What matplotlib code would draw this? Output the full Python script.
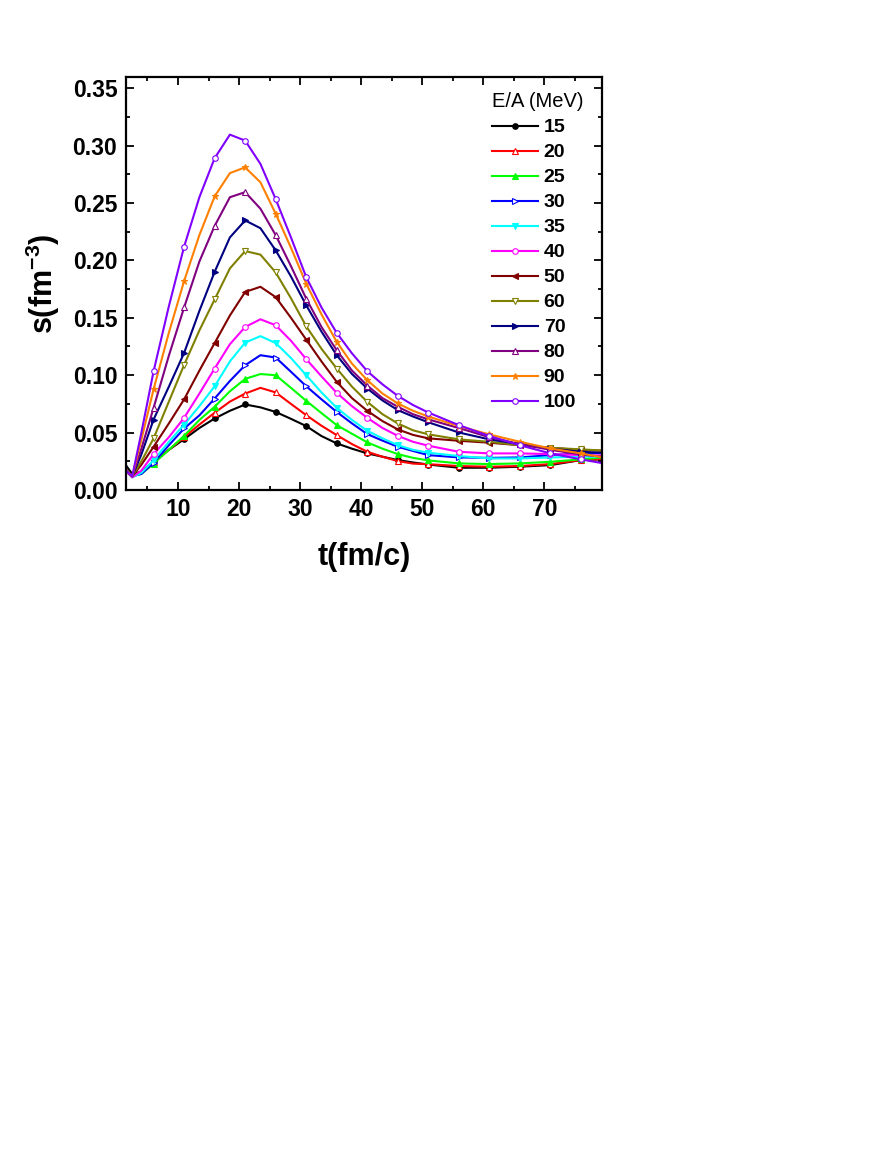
import matplotlib
matplotlib.use("Agg")
import matplotlib.pyplot as plt
from matplotlib.ticker import MultipleLocator, FormatStrFormatter

plt.rcParams['font.family'] = ['Liberation Sans', 'DejaVu Sans']
plt.rcParams['font.weight'] = 'bold'
plt.rcParams['mathtext.fontset'] = 'custom'
plt.rcParams['mathtext.rm'] = 'Liberation Sans:bold'
plt.rcParams['mathtext.default'] = 'rm'

# time grid (fm/c), markers sit every 5 fm/c starting at t=1
t = [1, 2.5, 4, 6, 8.5, 11, 13.5, 16, 18.5, 21, 23.5, 26, 28.5, 31, 33.5, 36,
     38.5, 41, 43.5, 46, 48.5, 51, 56, 61, 66, 71, 76, 81]

energies = ['15', '20', '25', '30', '35', '40', '50', '60', '70', '80', '90', '100']

s15 = [0.025, 0.014, 0.016, 0.025, 0.035, 0.0443, 0.054, 0.0623, 0.069, 0.0745, 0.072, 0.068,
       0.062, 0.0557, 0.047, 0.0406, 0.036, 0.0319, 0.029, 0.0261, 0.024, 0.0222, 0.0194,
       0.0194, 0.0203, 0.0217, 0.0261, 0.027]
s20 = [0.021, 0.012, 0.015, 0.024, 0.035, 0.046, 0.057, 0.0673, 0.077, 0.084, 0.089, 0.085,
       0.075, 0.0652, 0.056, 0.0478, 0.040, 0.0333, 0.029, 0.0252, 0.023, 0.0225, 0.0209,
       0.0203, 0.0209, 0.0226, 0.0261, 0.0275]
s25 = [0.020, 0.012, 0.014, 0.023, 0.035, 0.0472, 0.061, 0.0725, 0.086, 0.0968, 0.101, 0.100,
       0.089, 0.0777, 0.067, 0.0565, 0.049, 0.0415, 0.036, 0.0313, 0.028, 0.0258, 0.0232,
       0.0226, 0.0232, 0.0246, 0.0267, 0.029]
s30 = [0.020, 0.012, 0.014, 0.0238, 0.039, 0.0536, 0.065, 0.0797, 0.095, 0.1087, 0.1174, 0.1154,
       0.103, 0.0904, 0.079, 0.068, 0.058, 0.0487, 0.043, 0.0377, 0.034, 0.0304, 0.0284,
       0.028, 0.0284, 0.0304, 0.0319, 0.0325]
s35 = [0.019, 0.011, 0.015, 0.026, 0.042, 0.057, 0.073, 0.0904, 0.112, 0.1284, 0.134, 0.128,
       0.115, 0.100, 0.085, 0.0716, 0.061, 0.0516, 0.045, 0.0391, 0.035, 0.0325, 0.0296,
       0.0275, 0.0275, 0.0284, 0.029, 0.029]
s40 = [0.019, 0.011, 0.017, 0.0313, 0.046, 0.0629, 0.084, 0.1058, 0.127, 0.142, 0.1487, 0.1435,
       0.130, 0.114, 0.099, 0.0846, 0.073, 0.0629, 0.054, 0.0472, 0.042, 0.0386, 0.0333,
       0.0319, 0.0319, 0.0313, 0.0304, 0.030]
s50 = [0.019, 0.012, 0.022, 0.0377, 0.058, 0.079, 0.104, 0.128, 0.152, 0.1725, 0.177, 0.168,
       0.150, 0.131, 0.112, 0.0942, 0.080, 0.069, 0.060, 0.0528, 0.048, 0.045, 0.0429,
       0.0412, 0.039, 0.0368, 0.0348, 0.034]
s60 = [0.019, 0.012, 0.025, 0.045, 0.077, 0.109, 0.139, 0.166, 0.193, 0.2081, 0.205, 0.1895,
       0.167, 0.1426, 0.123, 0.1058, 0.090, 0.0768, 0.066, 0.058, 0.052, 0.0485, 0.0441,
       0.042, 0.039, 0.0368, 0.0354, 0.034]
s70 = [0.019, 0.012, 0.031, 0.0614, 0.090, 0.1194, 0.156, 0.190, 0.220, 0.2348, 0.228, 0.2087,
       0.186, 0.1609, 0.138, 0.1174, 0.101, 0.0884, 0.078, 0.0696, 0.064, 0.059, 0.0501,
       0.0441, 0.040, 0.036, 0.0333, 0.032]
s80 = [0.019, 0.012, 0.036, 0.0716, 0.117, 0.159, 0.199, 0.230, 0.255, 0.2594, 0.245, 0.222,
       0.195, 0.1667, 0.142, 0.1217, 0.104, 0.091, 0.080, 0.0725, 0.066, 0.0615, 0.054,
       0.046, 0.040, 0.035, 0.031, 0.028]
s90 = [0.019, 0.012, 0.044, 0.0878, 0.137, 0.182, 0.222, 0.2557, 0.276, 0.281, 0.268, 0.2406,
       0.211, 0.1797, 0.153, 0.129, 0.110, 0.0957, 0.084, 0.0754, 0.069, 0.064, 0.0557,
       0.0484, 0.042, 0.0362, 0.0319, 0.027]
s100 = [0.019, 0.012, 0.050, 0.1035, 0.160, 0.212, 0.255, 0.289, 0.3095, 0.3043, 0.284, 0.2533,
        0.220, 0.1855, 0.159, 0.1368, 0.119, 0.1035, 0.092, 0.082, 0.074, 0.0675, 0.0565,
        0.047, 0.039, 0.0319, 0.0267, 0.022]

series = [s15, s20, s25, s30, s35, s40, s50, s60, s70, s80, s90, s100]
colors = ['#000000', '#ff0000', '#00ff00', '#0000ff', '#00ffff', '#ff00ff',
          '#800000', '#808000', '#000080', '#800080', '#ff8000', '#8000ff']
markers = ['o', '^', '^', '>', 'v', 'o', '<', 'v', '>', '^', '*', 'o']
filled = [True, False, True, False, True, False, True, False, True, False, True, False]

# indices of the points that carry a marker (t = 1, 6, 11, ...)
mark_idx = [i for i, tv in enumerate(t) if (tv - 1) % 5 == 0]

fig = plt.figure(figsize=(8.94, 11.56), dpi=100)
ax = fig.add_axes([0.1406, 0.5761, 0.5331, 0.3576])

for e, s, c, m, f in zip(energies, series, colors, markers, filled):
    ax.plot(t, s, color=c, lw=1.5, marker=m, markevery=mark_idx,
            markersize=5 if m == '*' else 4,
            markerfacecolor=c if f else 'white', markeredgecolor=c,
            markeredgewidth=0.8, label=e)

ax.set_xlim(1.43, 79.5)
ax.set_ylim(0, 0.36)
ax.xaxis.set_major_locator(MultipleLocator(10))
ax.xaxis.set_minor_locator(MultipleLocator(5))
ax.yaxis.set_major_locator(MultipleLocator(0.05))
ax.yaxis.set_minor_locator(MultipleLocator(0.025))
ax.yaxis.set_major_formatter(FormatStrFormatter('%.2f'))
ax.tick_params(which='both', direction='in', top=True, right=True, width=1.3,
               labelsize=16.5, pad=6)
ax.tick_params(which='major', length=5.5)
ax.tick_params(which='minor', length=3)
for sp in ax.spines.values():
    sp.set_linewidth(1.6)
for lab in ax.get_xticklabels() + ax.get_yticklabels():
    lab.set_fontweight('bold')

ax.set_xlabel('t(fm/c)', fontsize=22, fontweight='bold', labelpad=15)
ax.set_ylabel(r's(fm$^{-3}$)', fontsize=22, fontweight='bold', labelpad=8)

leg = ax.legend(loc='upper left', bbox_to_anchor=(0.768, 0.962), frameon=False,
                title='E/A (MeV)', prop={'size': 14, 'weight': 'bold'},
                title_fontproperties={'size': 14.5, 'weight': 'normal'},
                handlelength=2.37, handletextpad=0.3, labelspacing=0.38,
                borderpad=0, borderaxespad=0, alignment='left')

fig.savefig('out.png', dpi=100)
